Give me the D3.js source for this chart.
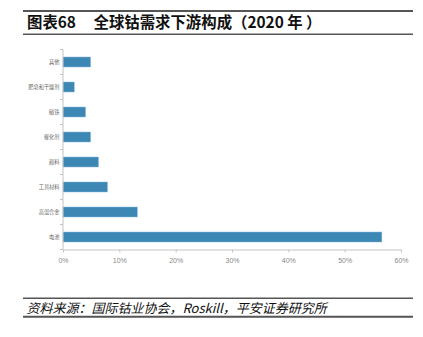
<!DOCTYPE html>
<html><head><meta charset="utf-8">
<script src="https://cdn.jsdelivr.net/npm/d3@7"></script>
<style>
html,body{margin:0;padding:0;background:#fff;}
svg{display:block;}
</style>
</head><body>
<script>
const categories = ["其他","肥皂和干燥剂","磁铁","催化剂","颜料","工具材料","高温合金","电池"];
const values = [4.9, 2.0, 4.0, 4.9, 6.3, 7.9, 13.2, 56.6];
const xTicks = [0, 10, 20, 30, 40, 50, 60];
const titleLead = "图表68";
const titleText = "全球钴需求下游构成（2020 年 ）";
const sourceText = "资料来源：国际钴业协会，Roskill，平安证券研究所";

const W = 423, H = 337;
const svg = d3.select("body").append("svg").attr("width", W).attr("height", H);
const cjk = "'Noto Sans CJK SC','Liberation Sans',sans-serif";

// header lines
svg.append("line").attr("x1",23).attr("x2",413).attr("y1",11).attr("y2",11).attr("stroke","#555").attr("stroke-width",2);
svg.append("line").attr("x1",23).attr("x2",413).attr("y1",34.3).attr("y2",34.3).attr("stroke","#555").attr("stroke-width",1.6);
svg.append("text").attr("x",27).attr("y",28).attr("font-family",cjk).attr("font-weight","bold")
  .attr("font-size",15.4).attr("fill","#111").text(titleLead);
svg.append("text").attr("x",93.5).attr("y",28).attr("font-family",cjk).attr("font-weight","bold")
  .attr("font-size",15.4).attr("fill","#111").text(titleText);

// chart
const x = d3.scaleLinear().domain([0,60]).range([63,401]);
const y = d3.scaleBand().domain(categories).range([49.5,249.5]).paddingInner(0.6).paddingOuter(0.3);

svg.append("g").selectAll("rect").data(categories).join("rect")
  .attr("x", x(0)).attr("y", d => y(d))
  .attr("width", (d,i) => x(values[i]) - x(0)).attr("height", y.bandwidth())
  .attr("fill","#3d87b5").attr("stroke","#8bbbd8").attr("stroke-width",0.5);

// y axis
const axisColor = "#c4c4c4";
svg.append("line").attr("x1",63).attr("x2",63).attr("y1",49.5).attr("y2",249.5).attr("stroke",axisColor);
const step = y.step();
const bounds = d3.range(categories.length+1).map(i => 49.5 + i*step);
svg.append("g").selectAll("line").data(bounds).join("line")
  .attr("x1",60).attr("x2",63).attr("y1",d=>d).attr("y2",d=>d).attr("stroke",axisColor);
svg.append("g").selectAll("text").data(categories).join("text")
  .attr("x",59.5).attr("y",d => y(d)+y.bandwidth()/2).attr("dy","0.35em")
  .attr("text-anchor","end").attr("font-family",cjk).attr("font-size",5.2).attr("fill","#666").text(d=>d);

// x axis
const xAxis = svg.append("g").attr("transform","translate(0,249.5)")
  .call(d3.axisBottom(x).tickValues(xTicks).tickFormat(d => d + "%").tickSize(3).tickSizeOuter(0));
xAxis.select(".domain").attr("stroke",axisColor);
xAxis.selectAll(".tick line").attr("stroke",axisColor);
xAxis.selectAll(".tick text").attr("fill","#888").attr("font-size",7)
  .attr("font-family","'Liberation Sans',sans-serif").attr("y",9);

// footer
svg.append("line").attr("x1",23).attr("x2",413).attr("y1",298.3).attr("y2",298.3).attr("stroke","#555").attr("stroke-width",1.6);
svg.append("line").attr("x1",23).attr("x2",413).attr("y1",316.7).attr("y2",316.7).attr("stroke","#555").attr("stroke-width",2);
svg.append("text").attr("x",26.5).attr("y",312.5).attr("font-family",cjk).attr("font-style","italic")
  .attr("font-size",13).attr("fill","#111").text(sourceText);
</script>
</body></html>
